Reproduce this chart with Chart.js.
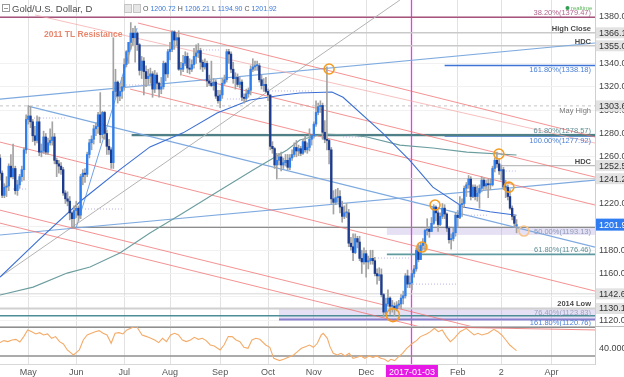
<!DOCTYPE html>
<html><head><meta charset="utf-8">
<script src="https://cdn.jsdelivr.net/npm/chart.js@4/dist/chart.umd.min.js"></script>
<style>html,body{margin:0;padding:0;background:#fff;overflow:hidden}canvas{display:block}</style>
</head><body>
<canvas id="c" width="624" height="377"></canvas>
<script>
// ---------------- DATA ----------------
// Daily XAU/USD candles, 13 Apr 2016 .. 10 Mar 2017 (trading-day index, 0 = 2 May 2016)
const firstIdx = -13;
const opens = [
 1259,1246,1227,1234,1235,1252,1243,1250,1231,1236,1243,1249,1266,
 1292,1295,1290,1278,1274,1290,1264,1265,1277,1264,1272,1274,1277,1257,1254,1252,1249,1229,1224,1222,1212,1207,
 1214,1216,1210,1243,1246,1245,1262,1272,1275,1284,1286,1296,1279,1298,1280,1269,1266,1255,1316,1324,1312,1316,
 1320,1339,1350,1358,1366,1362,1366,1356,1334,1342,1333,1327,1329,1331,1318,1330,1323,1318,1320,1340,1331,
 1350,1352,1367,1360,1362,1335,1335,1340,1346,1336,1335,1339,1346,1349,1351,1341,1337,1340,1325,1323,1321,1324,1312,
 1308,1313,1323,1326,1350,1348,1335,1327,1328,1322,1324,1311,1310,1314,1317,1335,1337,1338,1338,1326,1321,1322,
 1316,1313,1269,1267,1253,1257,1260,1253,1255,1257,1251,1259,1262,1268,1265,1267,1263,1273,1266,1268,1275,
 1278,1288,1298,1303,1304,1281,1275,1274,1266,1224,1221,1225,1226,1217,1209,1212,1212,1186,1183,1178,1190,1187,
 1173,1170,1177,1170,1171,1173,1171,1160,1158,1159,1142,1127,1134,1139,1132,1132,1130,1133,1134,1139,1141,1158,
 1151,1152,1160,1164,1180,1172,1184,1186,1197,1198,1196,1203,1217,1212,1202,1209,1216,1211,1199,1189,1190,1195,
 1210,1208,1219,1220,1233,1236,1241,1226,1234,1226,1229,1233,1240,1235,1237,1236,1236,1250,1257,1254,
 1248,1249,1234,1234,1226,1216,1209,1200.72];
const highs = [
 1262,1248,1237,1243,1254,1262,1271,1252,1240,1245,1252,1268,1296,
 1304,1303,1292,1286,1295,1294,1271,1282,1280,1276,1284,1290,1280,1259,1257,1255,1251,1231,1230,1226,1213,1218,
 1222,1218,1245,1249,1250,1264,1275,1278,1287,1289,1298,1315,1299,1299,1283,1275,1268,1362,1335,1325,1323,1328,
 1344,1351,1358,1375,1370,1372,1367,1357,1346,1345,1338,1335,1336,1333,1334,1332,1324,1328,1342,1341,1352,
 1358,1368,1368,1366,1368,1341,1347,1350,1349,1344,1343,1353,1356,1357,1353,1343,1344,1342,1330,1342,1327,1326,1317,
 1317,1327,1330,1352,1352,1350,1341,1332,1331,1328,1326,1314,1318,1319,1338,1344,1342,1342,1340,1330,1327,1328,
 1318,1313,1273,1268,1263,1263,1264,1259,1262,1262,1262,1266,1272,1274,1270,1269,1275,1278,1272,1284,1278,
 1290,1308,1306,1308,1306,1291,1337,1275,1268,1231,1232,1233,1231,1222,1218,1220,1215,1191,1194,1194,1192,1192,
 1180,1182,1180,1175,1180,1180,1174,1164,1165,1164,1143,1139,1146,1140,1137,1135,1136,1137,1142,1145,1160,1163,
 1158,1163,1167,1182,1185,1186,1190,1198,1207,1200,1208,1219,1218,1214,1212,1220,1219,1212,1200,1194,1199,1212,
 1214,1226,1224,1235,1238,1244,1243,1236,1236,1235,1236,1243,1242,1240,1241,1241,1252,1259,1264,1258,
 1253,1251,1240,1236,1232,1218,1210,1206.21];
const lows = [
 1240,1225,1225,1226,1231,1242,1241,1228,1227,1233,1239,1240,1263,
 1288,1285,1273,1270,1272,1261,1260,1263,1262,1262,1270,1270,1254,1243,1246,1245,1227,1220,1218,1206,1200,1199,
 1208,1205,1207,1236,1238,1243,1259,1266,1271,1278,1280,1272,1276,1275,1262,1262,1250,1250,1311,1306,1308,1310,
 1317,1337,1340,1352,1355,1341,1351,1330,1327,1313,1320,1322,1323,1311,1315,1318,1311,1314,1318,1325,1328,
 1343,1350,1352,1355,1334,1330,1333,1338,1332,1331,1333,1336,1340,1345,1335,1333,1335,1320,1321,1320,1317,1310,1306,
 1302,1310,1322,1324,1340,1332,1323,1318,1320,1319,1308,1306,1308,1311,1313,1333,1334,1334,1324,1318,1316,1315,
 1308,1266,1263,1250,1241,1253,1248,1250,1252,1249,1249,1257,1260,1260,1261,1261,1262,1264,1263,1265,1270,
 1276,1286,1296,1298,1275,1272,1266,1254,1220,1211,1219,1221,1212,1204,1207,1208,1183,1180,1171,1177,1182,1171,
 1160,1168,1157,1164,1168,1168,1158,1151,1154,1140,1123,1125,1132,1125,1127,1124,1128,1131,1130,1134,1139,1148,
 1148,1146,1157,1162,1170,1172,1180,1180,1193,1191,1196,1202,1205,1196,1201,1207,1207,1196,1186,1181,1188,1192,
 1200,1207,1209,1217,1226,1233,1223,1225,1223,1222,1216,1230,1232,1232,1225,1232,1235,1247,1251,1245,
 1240,1232,1225,1223,1215,1206,1200,1194.90];
const closes = [
 1246,1227,1234,1235,1252,1243,1250,1231,1236,1243,1249,1266,1292,
 1295,1290,1278,1274,1290,1264,1265,1277,1264,1272,1274,1277,1257,1254,1252,1249,1229,1224,1222,1212,1207,1214,
 1216,1210,1243,1246,1245,1262,1272,1275,1284,1286,1296,1279,1298,1280,1269,1266,1255,1316,1324,1312,1316,1320,
 1339,1350,1358,1366,1362,1366,1356,1334,1342,1333,1327,1329,1331,1318,1330,1323,1318,1320,1340,1331,1350,
 1352,1367,1360,1362,1335,1335,1340,1346,1336,1335,1339,1346,1349,1351,1341,1337,1340,1325,1323,1321,1324,1312,1308,
 1313,1323,1326,1350,1348,1335,1327,1328,1322,1324,1311,1310,1314,1317,1335,1337,1338,1338,1326,1321,1322,1316,
 1313,1269,1267,1253,1257,1260,1253,1255,1257,1251,1259,1262,1268,1265,1267,1263,1273,1266,1268,1275,1278,
 1288,1298,1303,1304,1281,1275,1274,1266,1224,1221,1225,1226,1217,1209,1212,1212,1186,1183,1178,1190,1187,1173,
 1170,1177,1170,1171,1173,1171,1160,1158,1159,1142,1127,1134,1139,1132,1132,1130,1133,1134,1139,1141,1158,1151,
 1152,1160,1164,1180,1172,1184,1186,1197,1198,1196,1203,1217,1212,1202,1209,1216,1211,1199,1189,1190,1195,1210,
 1208,1219,1220,1233,1236,1241,1226,1234,1226,1229,1233,1240,1235,1237,1236,1236,1250,1257,1254,1248,
 1249,1234,1234,1226,1216,1209,1203,1201.92];

// x-axis ticks
const monthTickIdx = [0, 22, 44, 65, 88, 110, 131, 155, 176, 197, 217, 240];
const monthLabels  = ['May','Jun','Jul','Aug','Sep','Oct','Nov','Dec','2017-01-03','Feb','2','Apr'];
const janMarkIdx = 176;
const mainTickVals = [1120,1140,1160,1180,1200,1220,1240,1260,1280,1300,1320,1340,1380];
const rsiTickVals = [40];

// moving averages
const blueMaIdx  = [-13, 5.4, 24.6, 42, 55.8, 71, 86.6, 101.7, 116.8, 124.6, 139.3, 144.4, 162.7, 175, 185.6, 199.4, 211.8, 224];
const blueMaVals = [1157, 1190, 1223, 1249, 1268.5, 1280.5, 1297.5, 1308.7, 1313, 1314.6, 1315.5, 1311, 1280, 1257, 1234, 1217, 1213, 1210];
const tealMaIdx  = [-13, 2.2, 17.8, 28.3, 42, 55.8, 71, 86.6, 103.1, 118.7, 124.6, 135, 147.6, 155.4, 170.5, 185.6, 201.2, 224];
const tealMaVals = [1141.6, 1148.4, 1160.4, 1165.6, 1177.6, 1194.7, 1211.8, 1229.8, 1248.7, 1265.8, 1274.4, 1279.5, 1278.7, 1277, 1270, 1267.6, 1264, 1261.5];

// trend lines: [startIdx, startPrice, endIdx, endPrice]
const redChannel = [
 [50.3, 1374.6, 260, 1277.0],
 [70.6, 1330.0, 260, 1242.6],
 [46.7, 1318.0, 260, 1218.7],
 [-13, 1272.6, 260, 1145.0],
 [-13, 1214.3, 260, 1088.5],
 [-13, 1203.2, 260, 1077.4]];
const tl2011 = [3.1, 1381.5, 260, 1271.8];
const blueTrend = [
 [-13, 1309.4, 260, 1357.5],
 [-13, 1193.0, 260, 1240.0],
 [-0.1, 1303.4, 260, 1182.6]];
const steepBlue = [21.9, 1199.0, 49.9, 1370.3];
const grayTrend = [-13, 1157.0, 170.5, 1394.3];

// horizontal levels
const levelPrices = [1379.47, 1366.19, 1355.09, 1338.18, 1303.62, 1278.57, 1277.92, 1252.50, 1241.27, 1199.60, 1176.46, 1142.65, 1130.10, 1123.83, 1120.76];
const levelFrom   = [-13, 51, 51, 191, -13, 47.4, 191, 217, 114.5, 20, 164.5, -13, -13, -13, 115];

// zones
const zoneTop    = [1199.60, 1130.10];
const zoneBottom = [1193.13, 1120.76];
const zoneFrom   = [164.5, 115];

// level labels
const labelText  = ['38.20%(1379.47)','High Close','HDC','161.80%(1338.18)','May High','61.80%(1278.57)','100.00%(1277.92)','HDC','50.00%(1193.13)','61.80%(1176.46)','2014 Low','76.40%(1123.83)','161.80%(1120.76)'];
const labelPrice = [1379.47, 1366.19, 1355.09, 1338.18, 1303.62, 1278.57, 1277.92, 1252.50, 1193.13, 1176.46, 1130.10, 1123.83, 1120.76];
const tlLabel = '2011 TL Resistance';
const tlLabelIdx = 7.2, tlLabelPrice = 1364.3;

// axis price marks
const axisMarkPrices = [1366.19, 1355.09, 1303.62, 1252.50, 1241.27, 1142.65, 1130.10];

// pivot circles
const circleIdx   = [138, 215.9, 220.5, 180.6, 186.6, 227.4, 167.3];
const circlePrice = [1335.2, 1262.4, 1234.0, 1182.7, 1218.7, 1196.4, 1124.4];

// faint dotted price markers
const dotFrom  = [-7, -1.5, 26, 43.5, 78.8, 91.1, 111.8, 144.4, 160.4, 176.5, 201.7, 217.7];
const dotTo    = [-0.6, 16.8, 43.5, 54.4, 88, 100.3, 130.6, 153.5, 175, 196.7, 210.4, 224.2];
const dotPrice = [1232.4, 1293.2, 1215.3, 1321.5, 1351.5, 1309.5, 1316.4, 1277, 1173.3, 1151, 1210, 1247.8];

const rsiIdx = [-13,-11.2,-9.4,-7.5,-5.7,-3.9,-2.1,-0.3,1.6,3.4,5.2,7,8.8,10.7,12.5,14.3,16.1,17.9,19.8,20.7,22.5,23.4,25.2,27,28.9,30.7,32.5,34.3,36.1,38,39.8,41.6,43.4,45.2,48,49.8,50.7,52.2,54.3,56.2,58,59.8,61.6,63.4,65.3,67.1,68.9,70.7,72.5,74.4,76.2,78,79.8,81.6,83.5,85.3,88,89.8,91.7,93.5,95.3,97.1,98.9,100.8,102.6,104.4,106.2,108.9,110.8,112.6,115.3,117.1,119.9,121.7,123.5,125.3,127.1,129,130.8,132.6,134.4,135.3,137.2,138.4,139.9,141.7,143.5,145.3,147.2,149,150.8,152.6,154.4,156.3,158.1,159.9,161.7,163.5,165,166.3,168.1,169.9,171.7,173.6,176.3,178.1,179.9,182.7,184.5,186.3,188.1,189.9,191.8,193.6,195.4,198.1,200.9,202.7,204.5,206.3,208.1,210.9,213.6,215.4,217.2,219.1,220.9,222.7,224];
const rsiVals = [48.6,51.4,50,52.3,53.2,49.5,57,66.3,63.9,60.7,62.5,59.3,60.7,54.6,57,50,46.7,38.4,33.7,31.4,36,38.4,52.3,59.3,61.6,63.9,65.3,61.6,59.3,47.7,61.6,62.5,60.7,66.3,70,70.9,66.3,59.3,57,54.6,52.3,48.6,54.6,50,59.3,61.6,59.3,52.3,50,52.3,56,53.2,54.6,51.4,45.3,43.9,38.4,45.3,57,57,52.3,50,42.1,40.7,52.3,54.6,53.2,45.3,42.1,26.7,23.5,25.3,29,31.4,36,40.7,43,45.3,42.1,47.7,59.3,61.6,54.6,43,33.7,31.4,33.7,30,33.7,26.7,28.1,30,26.7,30,28.1,30,26.7,25.3,22.1,25.3,23.5,29,33.7,40.7,47.7,51.4,57,60.7,63.9,68.6,63.9,66.3,57,50,54.6,63.9,68.6,63.9,59.3,61.6,59.3,61.6,67.2,63.9,59.3,52.3,45.3,40.7,37.4];
const rsiBands = [70, 30];
const rsiResistance = [187.5, 70.4, 260, 66.3];

// ---------------- CHART ----------------
const FONT = "'Liberation Sans', Arial, sans-serif";
Chart.defaults.font.family = FONT;
const idx = closes.map((_, k) => firstIdx + k);
const UP = '#2f80ee', DOWN = '#1d3c8e', WICK = '#a3a3a3';

const seg = (a) => [{x:a[0], y:a[1]}, {x:a[2], y:a[3]}];
function lineDS(data, color, width, extra) {
  return Object.assign({type:'line', data, borderColor:color, borderWidth:width, pointRadius:0,
    tension:0, fill:false, xAxisID:'x', yAxisID:'y', order:6}, extra || {});
}
const levelStyle = [
 ['#a6547c',1.6,[]], ['#c9c9c9',1.5,[]], ['#c9c9c9',1.5,[]], ['#3f74d6',1.5,[]], ['#c4c4c4',1,[3,3]],
 ['#4f7f87',2.2,[]], ['#3f74d6',1.5,[]], ['#bdbdbd',1.2,[]], ['#cfcfcf',1.2,[]], ['#8c8c8c',1.3,[]],
 ['#5f9aa1',1.6,[]], ['#d6d6d6',1,[]], ['#d0d0d0',2,[]], ['#4c8d97',1.6,[]], ['#877fce',2,[]]];

const datasets = [];
datasets.push({type:'line', data: circleIdx.map((x,k)=>({x, y:circlePrice[k]})), showLine:false,
  pointRadius: circleIdx.map((_,k)=> k===6 ? 6.5 : 5), pointBorderWidth:1.6, pointBackgroundColor:'rgba(0,0,0,0)',
  pointBorderColor: circleIdx.map((_,k)=> k===5 ? '#f7c48a' : '#f39c1f'), xAxisID:'x', yAxisID:'y', order:0});
datasets.push({type:'bar', data: idx.map((x,k)=>({x, y:[opens[k], closes[k]]})), barThickness:1.7, minBarLength:1,
  backgroundColor: idx.map((_,k)=> closes[k] >= opens[k] ? UP : DOWN), borderWidth:0, grouped:false, xAxisID:'x', yAxisID:'y', order:1});
datasets.push({type:'bar', data: idx.map((x,k)=>({x, y:[lows[k], highs[k]]})), barThickness:1,
  backgroundColor: WICK, borderWidth:0, grouped:false, xAxisID:'x', yAxisID:'y', order:2});
datasets.push(lineDS(blueMaIdx.map((x,k)=>({x,y:blueMaVals[k]})), '#3b6fd4', 1.1, {order:3}));
datasets.push(lineDS(tealMaIdx.map((x,k)=>({x,y:tealMaVals[k]})), '#6c9d9f', 1.1, {order:3}));
redChannel.forEach(l => datasets.push(lineDS(seg(l), 'rgba(240,110,110,0.75)', 1, {order:5})));
datasets.push(lineDS(seg(tl2011), 'rgba(244,170,170,0.75)', 1, {order:5}));
blueTrend.forEach(l => datasets.push(lineDS(seg(l), '#7eaadf', 1.1, {order:5})));
datasets.push(lineDS(seg(steepBlue), '#6fa2e6', 1, {order:5}));
datasets.push(lineDS(seg(grayTrend), '#b3b3b3', 1, {order:5}));
levelPrices.forEach((p,k) => datasets.push(lineDS(seg([levelFrom[k], p, 260, p]), levelStyle[k][0], levelStyle[k][1], {borderDash: levelStyle[k][2], order:7})));
const dotData = [];
dotFrom.forEach((a,k) => { dotData.push({x:a, y:dotPrice[k]}, {x:dotTo[k], y:dotPrice[k]}, {x:dotTo[k], y:null}); });
datasets.push(lineDS(dotData, '#b9b2ea', 1, {borderDash:[1,2], spanGaps:false, order:4}));
// RSI pane
datasets.push(lineDS(rsiIdx.map((x,k)=>({x,y:rsiVals[k]})), '#f4ab68', 1.1, {yAxisID:'yr', order:3}));
rsiBands.forEach(b => datasets.push(lineDS(seg([-13,b,260,b]), '#8f8f8f', 1.4, {yAxisID:'yr', order:6})));
datasets.push(lineDS(seg(rsiResistance), 'rgba(238,110,110,0.8)', 1, {yAxisID:'yr', order:5}));

const labelStyle = [
 {dy:-4.5,c:'#b0648c',b:false},{dy:-4,c:'#4a4a4a',b:true},{dy:-4,c:'#4a4a4a',b:true},{dy:4.8,c:'#4a7fd6',b:false},
 {dy:4.8,c:'#777',b:false},{dy:-4.5,c:'#5e8f96',b:false},{dy:5.2,c:'#4a7fd6',b:false},{dy:-4,c:'#4a4a4a',b:true},
 {dy:-3,c:'#8c9abb',b:false},{dy:-4.5,c:'#5e8f96',b:false},{dy:-4.5,c:'#4a4a4a',b:true},{dy:-3,c:'#9aa2c4',b:false},
 {dy:4,c:'#4a7fd6',b:false}];

const overlay = {
  id:'overlay',
  beforeDatasetsDraw(chart) {
    const {ctx, chartArea} = chart; const x = chart.scales.x, y = chart.scales.y;
    ctx.save();
    ctx.beginPath(); ctx.rect(x.left, y.top, x.right - x.left, y.bottom - y.top); ctx.clip();
    zoneTop.forEach((t,k) => {
      const x0 = x.getPixelForValue(zoneFrom[k]);
      const y0 = y.getPixelForValue(t), y1 = y.getPixelForValue(zoneBottom[k]);
      ctx.fillStyle = 'rgba(176,160,220,0.33)';
      ctx.fillRect(x0, y0, x.right - x0, y1 - y0);
    });
    ctx.restore();
    ctx.save();
    const xm = Math.round(x.getPixelForValue(janMarkIdx)) - 0.5;
    ctx.strokeStyle = '#e93de9'; ctx.lineWidth = 1.3;
    ctx.beginPath(); ctx.moveTo(xm, chartArea.top); ctx.lineTo(xm, chartArea.bottom); ctx.stroke();
    ctx.restore();
  },
  afterDatasetsDraw(chart) {
    const {ctx} = chart; const x = chart.scales.x, y = chart.scales.y;
    ctx.save();
    ctx.textBaseline = 'middle';
    labelText.forEach((t,k) => {
      const s = labelStyle[k];
      ctx.font = (s.b ? 'bold ' : '') + '7.5px ' + FONT;
      ctx.fillStyle = s.c; ctx.textAlign = 'right';
      ctx.fillText(t, x.right - 4, y.getPixelForValue(labelPrice[k]) + s.dy);
    });
    ctx.font = 'bold 8.5px ' + FONT; ctx.fillStyle = '#e8876f'; ctx.textAlign = 'left';
    ctx.fillText(tlLabel, x.getPixelForValue(tlLabelIdx), y.getPixelForValue(tlLabelPrice));
    ctx.restore();
  },
  afterDraw(chart) {
    const {ctx} = chart; const y = chart.scales.y;
    ctx.save();
    ctx.strokeStyle = '#bdbdbd'; ctx.lineWidth = 1;
    ctx.beginPath(); ctx.moveTo(0, Math.round(y.bottom) + 0.5); ctx.lineTo(y.right, Math.round(y.bottom) + 0.5); ctx.stroke();
    ctx.font = '9px ' + FONT; ctx.textBaseline = 'middle'; ctx.textAlign = 'left';
    axisMarkPrices.forEach(p => {
      const py = y.getPixelForValue(p);
      ctx.fillStyle = '#e2e2e2'; ctx.fillRect(y.left + 1, py - 5.5, 40, 11);
      ctx.fillStyle = '#333'; ctx.fillText(p.toFixed(2), y.left + 4, py + 0.5);
    });
    const last = closes[closes.length - 1];
    const pl = y.getPixelForValue(last);
    ctx.fillStyle = '#2f7df0'; ctx.fillRect(y.left + 1, pl - 6, 40, 12);
    ctx.fillStyle = '#fff'; ctx.fillText(last.toFixed(2), y.left + 4, pl + 0.5);
    // header
    ctx.strokeStyle = '#9a9a9a'; ctx.lineWidth = 1;
    ctx.strokeRect(2.5, 4.5, 7, 7);
    ctx.beginPath(); ctx.moveTo(4, 8.5); ctx.lineTo(8, 8.5); ctx.stroke();
    ctx.font = '9.5px ' + FONT; ctx.fillStyle = '#4a4a4a';
    ctx.fillText('Gold/U.S. Dollar, D', 12, 9);
    ctx.fillStyle = '#e6e6e6'; ctx.strokeStyle = '#c4c4c4';
    ctx.fillRect(124, 4, 7, 8); ctx.strokeRect(124.5, 4.5, 7, 8);
    ctx.fillRect(133, 4, 7, 8); ctx.strokeRect(133.5, 4.5, 7, 8);
    const n = closes.length - 1;
    const parts = [['O ', '#555'], [opens[n].toFixed(2), '#3a78d8'], [' H ', '#555'], [highs[n].toFixed(2), '#3a78d8'],
                   [' L ', '#555'], [lows[n].toFixed(2), '#3a78d8'], [' C ', '#555'], [closes[n].toFixed(2), '#3a78d8']];
    ctx.font = '7px ' + FONT; let px = 143;
    parts.forEach(([t, c]) => { ctx.fillStyle = c; ctx.fillText(t, px, 9); px += ctx.measureText(t).width; });
    ctx.fillStyle = '#2e9e4f'; ctx.beginPath(); ctx.arc(567.5, 8, 2, 0, Math.PI * 2); ctx.fill();
    ctx.font = '6px ' + FONT; ctx.fillStyle = '#5cb85c'; ctx.fillText('realtime', 571, 8);
    ctx.restore();
  }
};

new Chart(document.getElementById('c'), {
  type:'line',
  data:{datasets},
  options:{
    responsive:false, animation:false, devicePixelRatio:1, events:[],
    layout:{padding:0, autoPadding:false},
    plugins:{legend:{display:false}, tooltip:{enabled:false}},
    scales:{
      x:{type:'linear', position:'bottom', min:-13, max:260, offset:false,
        afterBuildTicks: s => { s.ticks = monthTickIdx.map(v => ({value:v})); },
        afterFit: s => { s.height = 13; s.paddingLeft = 0; s.paddingRight = 0; },
        ticks:{autoSkip:false, maxRotation:0, padding:3, font:{size:9},
          callback: v => monthLabels[monthTickIdx.indexOf(v)],
          color: c => (c.tick && c.tick.value === janMarkIdx) ? '#ffffff' : '#555',
          showLabelBackdrop: c => !!(c.tick && c.tick.value === janMarkIdx),
          backdropColor:'#e619e6', backdropPadding:{top:2, bottom:1, left:3, right:3}},
        grid:{offset:false, drawTicks:false, lineWidth:1,
          color: c => (c.tick && c.tick.value === janMarkIdx) ? 'rgba(0,0,0,0)' : '#e2e2e2'},
        border:{color:'#d8d8d8'}},
      y:{type:'linear', position:'right', stack:'panes', stackWeight:326, min:1115.1, max:1394.3,
        afterBuildTicks: s => { s.ticks = mainTickVals.map(v => ({value:v})); },
        afterFit: s => { s.width = 29; s.paddingTop = 0; s.paddingBottom = 0; },
        ticks:{padding:4, font:{size:9}, color:'#444', callback: v => Number(v).toFixed(2)},
        grid:{drawTicks:false, color:'#f1f1f1'}, border:{color:'#cfcfcf'}},
      yr:{type:'linear', position:'right', stack:'panes', stackWeight:38, min:18.8, max:71.8,
        afterBuildTicks: s => { s.ticks = rsiTickVals.map(v => ({value:v})); },
        afterFit: s => { s.width = 29; s.paddingTop = 0; s.paddingBottom = 0; },
        ticks:{padding:4, font:{size:9}, color:'#444', callback: v => Number(v).toFixed(4)},
        grid:{display:false, drawTicks:false}, border:{color:'#cfcfcf'}}
    }
  },
  plugins:[overlay]
});
</script>
</body></html>
